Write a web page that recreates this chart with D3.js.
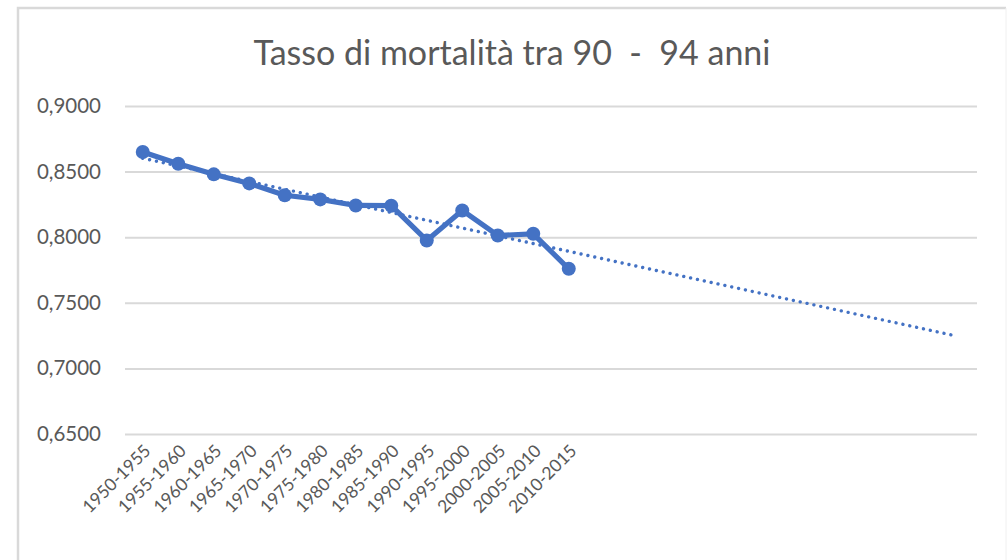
<!DOCTYPE html>
<html>
<head>
<meta charset="utf-8">
<script src="https://cdn.jsdelivr.net/npm/d3@7"></script>
<style>
  body { margin: 0; background: #fff; }
  svg text { font-family: Lato, "Open Sans", sans-serif; fill: #595959; }
</style>
</head>
<body>
<div id="chart"></div>
<script>
// periods and death rate for ages 90-94
const periods = ["1950-1955", "1955-1960", "1960-1965", "1965-1970", "1970-1975", "1975-1980",
    "1980-1985", "1985-1990", "1990-1995", "1995-2000", "2000-2005", "2005-2010", "2010-2015"];
const rates = [0.8649, 0.8560, 0.8479, 0.8410, 0.8320, 0.8288, 0.8242, 0.8240, 0.7975, 0.8204,
    0.8013, 0.8026, 0.7759];
// linear trendline (forecast forward), ends
const trendIndex = [0, 22.83];
const trendValues = [0.8602, 0.7252];
const forecastSlots = 11;
const yTicks = [0.65, 0.70, 0.75, 0.80, 0.85, 0.90];

const W = 1007, H = 560;
const plot = { left: 125, right: 977, top: 106, bottom: 434 };
const nSlots = periods.length + forecastSlots;

const svg = d3.select("#chart").append("svg")
    .attr("width", W)
    .attr("height", H);

// chart frame
svg.append("path")
    .attr("d", "M18,562 L18,8 L1006,8")
    .attr("fill", "none")
    .attr("stroke", "#d9d9d9")
    .attr("stroke-width", 2.5);
svg.append("line")
    .attr("x1", 1006).attr("x2", 1006).attr("y1", 8).attr("y2", 560)
    .attr("stroke", "#f0f0f0")
    .attr("stroke-width", 1);

let x = d3.scaleLinear().domain([-0.5, nSlots - 0.5]).range([plot.left, plot.right]);
let y = d3.scaleLinear().domain([0.65, 0.90]).range([plot.bottom, plot.top]);

const fmt = v => d3.format(".4f")(v).replace(".", ",");

// gridlines + y labels
svg.append("g")
    .attr("transform", "translate(" + plot.left + ",0)")
    .call(d3.axisLeft(y).tickValues(yTicks).tickSize(-(plot.right - plot.left)).tickFormat(fmt).tickPadding(24))
    .call(g => g.select(".domain").remove())
    .call(g => g.selectAll(".tick line").attr("stroke", "#d9d9d9").attr("stroke-width", 2))
    .call(g => g.selectAll(".tick text")
        .style("font-size", "20.5px")
        .attr("fill", "#595959"));

// x labels
svg.append("g")
    .selectAll("text")
    .data(periods)
    .enter().append("text")
    .attr("text-anchor", "end")
    .attr("transform", function (d, i) {
        return "translate(" + (x(i) + 9) + "," + 452 + ") rotate(-45)";
    })
    .style("font-size", "17.5px")
    .text(d => d);

// trendline
svg.append("path")
    .attr("d", d3.line()(trendIndex.map((t, i) => [x(t), y(trendValues[i])])))
    .attr("fill", "none")
    .attr("stroke", "#4472c4")
    .attr("stroke-width", 3.4)
    .attr("stroke-linecap", "round")
    .attr("stroke-dasharray", "0.01 7");

// series line
svg.append("path")
    .datum(rates)
    .attr("d", d3.line().x((d, i) => x(i)).y(d => y(d)))
    .attr("fill", "none")
    .attr("stroke", "#4472c4")
    .attr("stroke-width", 5.2)
    .attr("stroke-linejoin", "round");

svg.selectAll("circle")
    .data(rates)
    .enter().append("circle")
    .attr("cx", (d, i) => x(i))
    .attr("cy", d => y(d))
    .attr("r", 7)
    .attr("fill", "#4472c4");

// title
svg.append("text")
    .attr("x", 512)
    .attr("y", 65)
    .attr("text-anchor", "middle")
    .style("font-size", "34px")
    .text("Tasso di mortalità tra 90  -  94 anni")
    .attr("xml:space", "preserve")
    .style("white-space", "pre");
</script>
</body>
</html>
